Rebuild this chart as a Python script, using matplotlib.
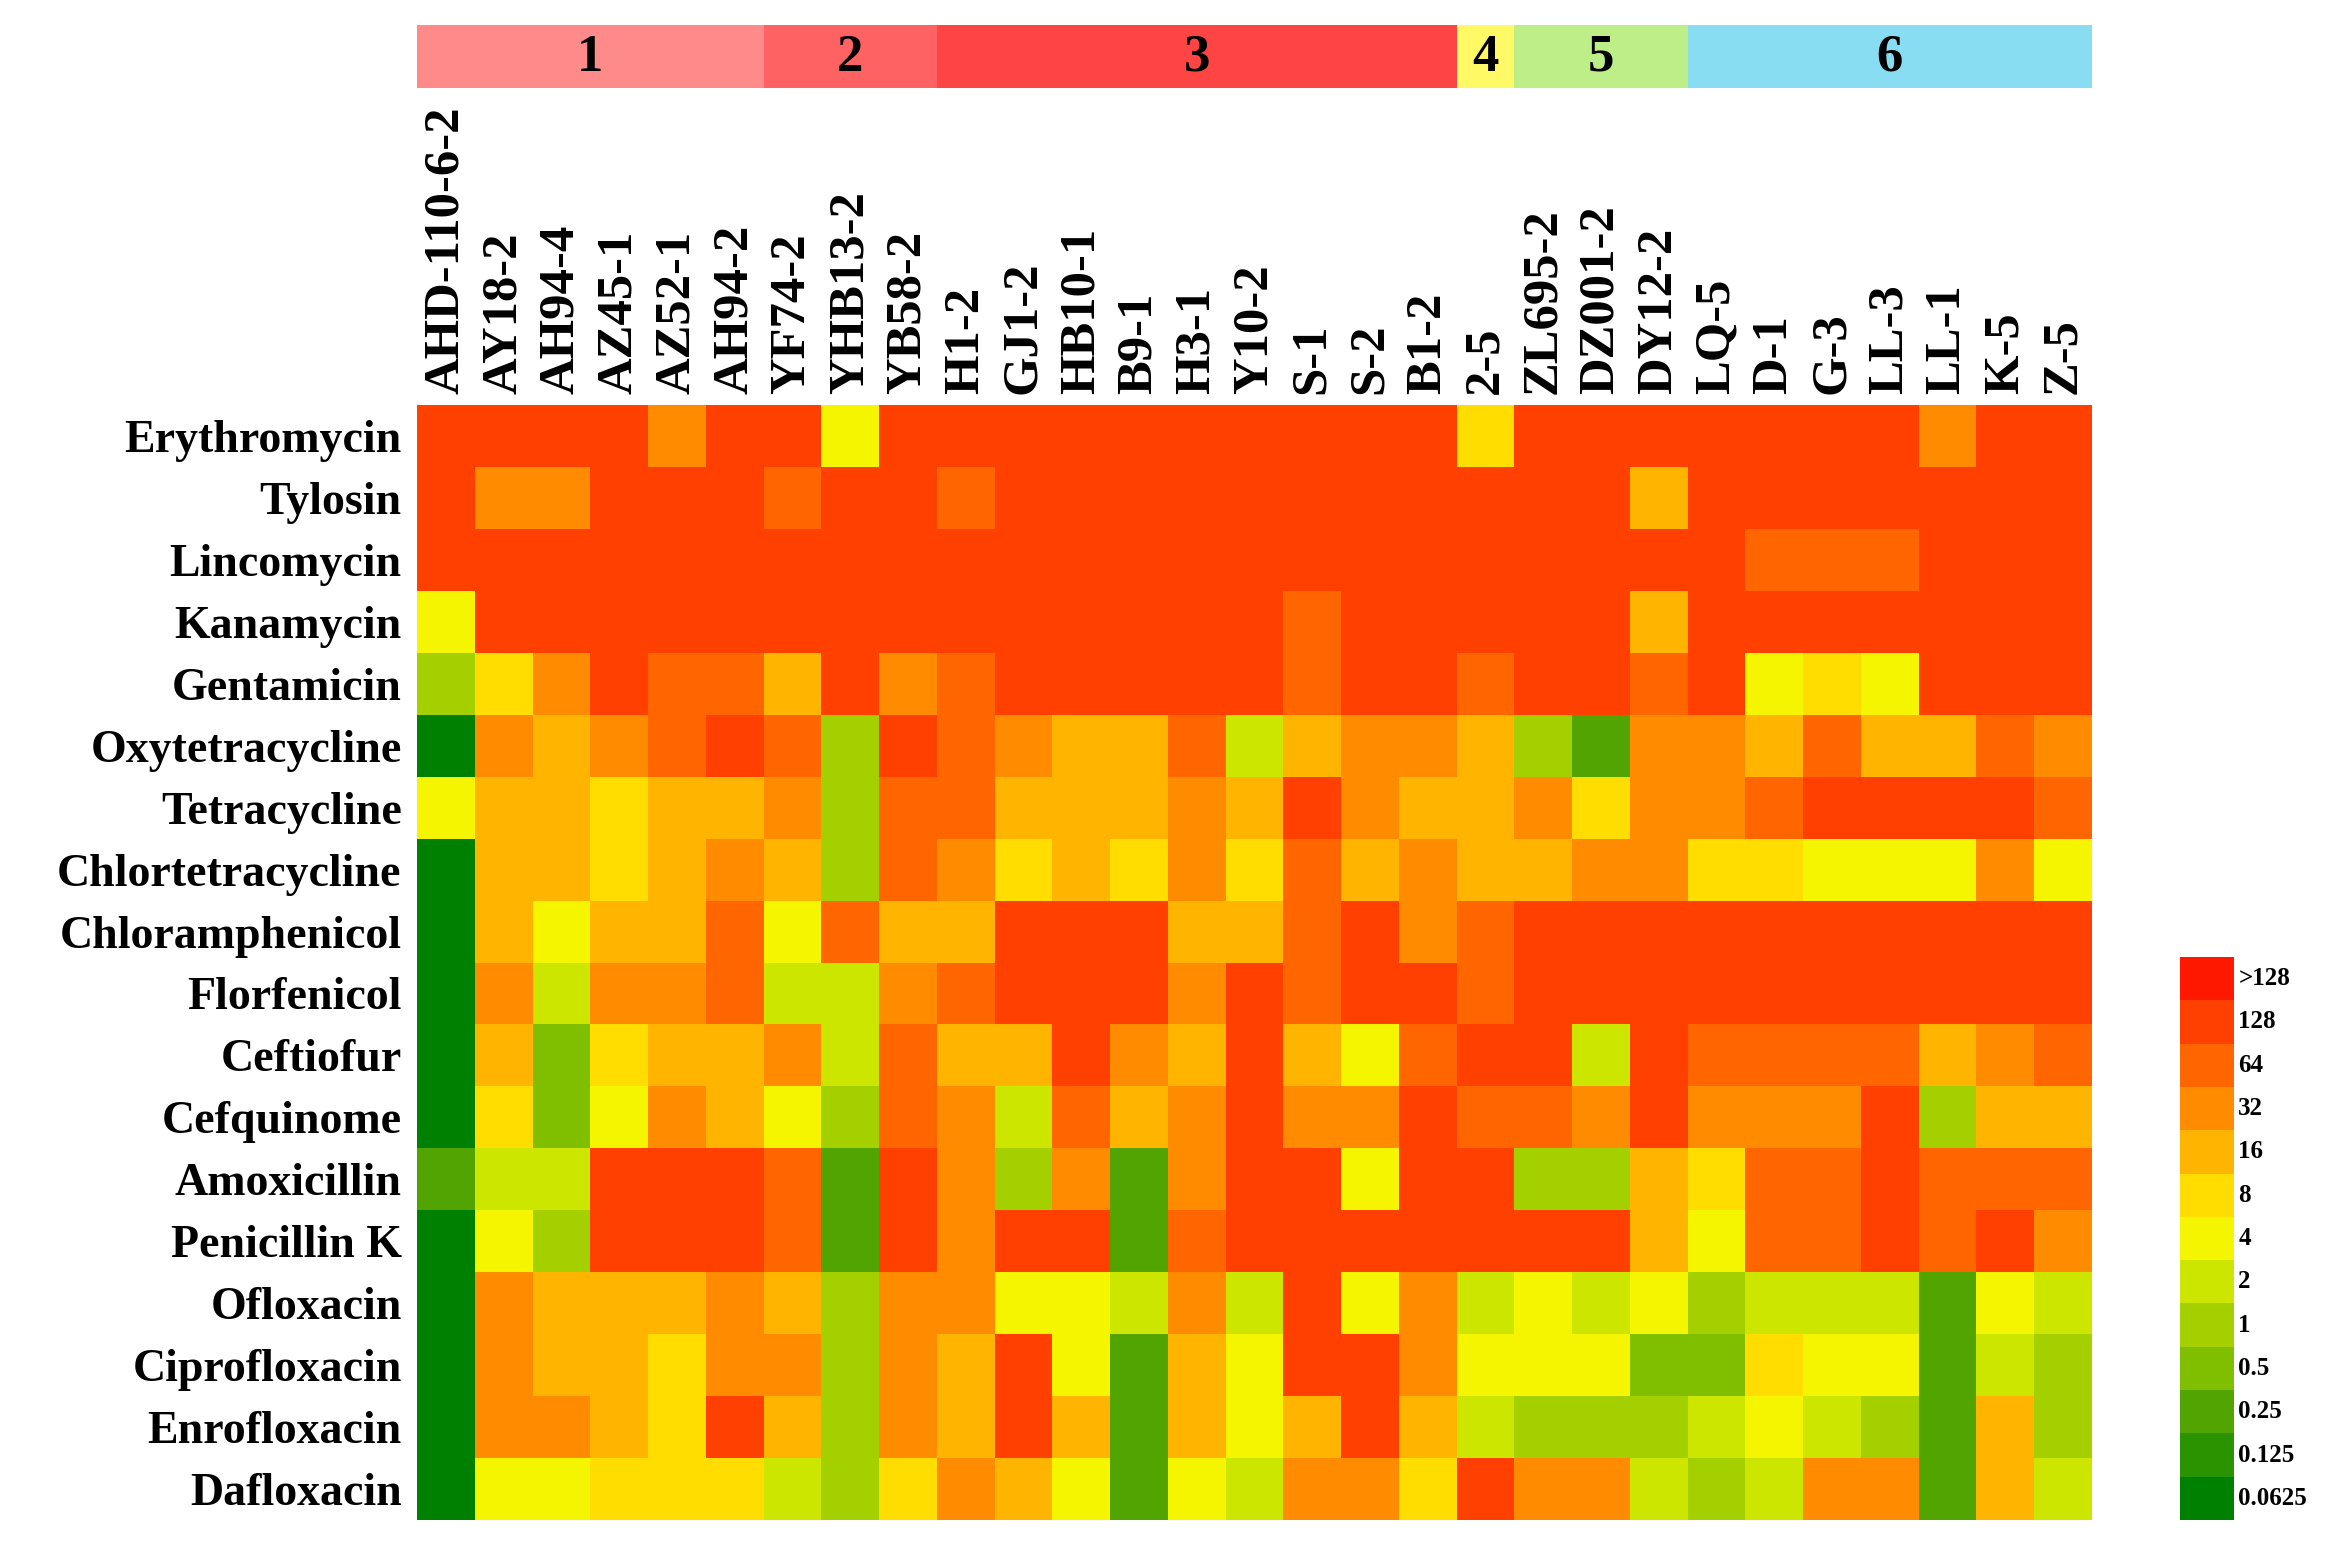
import numpy as np
import matplotlib
matplotlib.use("Agg")
import matplotlib.pyplot as plt
from matplotlib.colors import ListedColormap, BoundaryNorm

plt.rcParams['font.family'] = ['Liberation Serif', 'DejaVu Serif']

strains = ["AHD-110-6-2", "AY18-2", "AH94-4", "AZ45-1", "AZ52-1", "AH94-2",
           "YF74-2", "YHB13-2", "YB58-2", "H1-2", "GJ1-2", "HB10-1", "B9-1",
           "H3-1", "Y10-2", "S-1", "S-2", "B1-2", "2-5", "ZL695-2", "DZ001-2",
           "DY12-2", "LQ-5", "D-1", "G-3", "LL-3", "LL-1", "K-5", "Z-5"]

antibiotics = ["Erythromycin", "Tylosin", "Lincomycin", "Kanamycin", "Gentamicin",
               "Oxytetracycline", "Tetracycline", "Chlortetracycline",
               "Chloramphenicol", "Florfenicol", "Ceftiofur", "Cefquinome",
               "Amoxicillin", "Penicillin K", "Ofloxacin", "Ciprofloxacin",
               "Enrofloxacin", "Dafloxacin"]

group_names = ["1", "2", "3", "4", "5", "6"]
group_sizes = [6, 3, 9, 1, 3, 7]
group_colors = ["#FF8A8A", "#FF6262", "#FF4444", "#FFF966", "#BDEE88", "#88DDF2"]

legend_labels = ["0.0625", "0.125", "0.25", "0.5", "1", "2", "4", "8", "16",
                 "32", "64", "128", ">128"]
legend_colors = ["#008000", "#2A9400", "#52A500", "#80BF00", "#A5D000", "#CCE600",
                 "#F5F500", "#FFDD00", "#FFB400", "#FF8C00", "#FF6600", "#FF4000",
                 "#FF1800"]

# MIC values (ug/mL) per antibiotic, one value per strain
erythromycin = [128, 128, 128, 128, 32, 128, 128, 4, 128, 128, 128, 128, 128, 128, 128,
                128, 128, 128, 8, 128, 128, 128, 128, 128, 128, 128, 32, 128, 128]
tylosin = [128, 32, 32, 128, 128, 128, 64, 128, 128, 64, 128, 128, 128, 128, 128,
           128, 128, 128, 128, 128, 128, 16, 128, 128, 128, 128, 128, 128, 128]
lincomycin = [128, 128, 128, 128, 128, 128, 128, 128, 128, 128, 128, 128, 128, 128, 128,
              128, 128, 128, 128, 128, 128, 128, 128, 64, 64, 64, 128, 128, 128]
kanamycin = [4, 128, 128, 128, 128, 128, 128, 128, 128, 128, 128, 128, 128, 128, 128,
             64, 128, 128, 128, 128, 128, 16, 128, 128, 128, 128, 128, 128, 128]
gentamicin = [1, 8, 32, 128, 64, 64, 16, 128, 32, 64, 128, 128, 128, 128, 128,
              64, 128, 128, 64, 128, 128, 64, 128, 4, 8, 4, 128, 128, 128]
oxytetracycline = [0.0625, 32, 16, 32, 64, 128, 64, 1, 128, 64, 32, 16, 16, 64, 2,
                   16, 32, 32, 16, 1, 0.25, 32, 32, 16, 64, 16, 16, 64, 32]
tetracycline = [4, 16, 16, 8, 16, 16, 32, 1, 64, 64, 16, 16, 16, 32, 16,
                128, 32, 16, 16, 32, 8, 32, 32, 64, 128, 128, 128, 128, 64]
chlortetracycline = [0.0625, 16, 16, 8, 16, 32, 16, 1, 64, 32, 8, 16, 8, 32, 8,
                     64, 16, 32, 16, 16, 32, 32, 8, 8, 4, 4, 4, 32, 4]
chloramphenicol = [0.0625, 16, 4, 16, 16, 64, 4, 64, 16, 16, 128, 128, 128, 16, 16,
                   64, 128, 32, 64, 128, 128, 128, 128, 128, 128, 128, 128, 128, 128]
florfenicol = [0.0625, 32, 2, 32, 32, 64, 2, 2, 32, 64, 128, 128, 128, 32, 128,
               64, 128, 128, 64, 128, 128, 128, 128, 128, 128, 128, 128, 128, 128]
ceftiofur = [0.0625, 16, 0.5, 8, 16, 16, 32, 2, 64, 16, 16, 128, 32, 16, 128,
             16, 4, 64, 128, 128, 2, 128, 64, 64, 64, 64, 16, 32, 64]
cefquinome = [0.0625, 8, 0.5, 4, 32, 16, 4, 1, 64, 32, 2, 64, 16, 32, 128,
              32, 32, 128, 64, 64, 32, 128, 32, 32, 32, 128, 1, 16, 16]
amoxicillin = [0.25, 2, 2, 128, 128, 128, 64, 0.25, 128, 32, 1, 32, 0.25, 32, 128,
               128, 4, 128, 128, 1, 1, 16, 8, 64, 64, 128, 64, 64, 64]
penicillin_k = [0.0625, 4, 1, 128, 128, 128, 64, 0.25, 128, 32, 128, 128, 0.25, 64, 128,
                128, 128, 128, 128, 128, 128, 16, 4, 64, 64, 128, 64, 128, 32]
ofloxacin = [0.0625, 32, 16, 16, 16, 32, 16, 1, 32, 32, 4, 4, 2, 32, 2,
             128, 4, 32, 2, 4, 2, 4, 1, 2, 2, 2, 0.25, 4, 2]
ciprofloxacin = [0.0625, 32, 16, 16, 8, 32, 32, 1, 32, 16, 128, 4, 0.25, 16, 4,
                 128, 128, 32, 4, 4, 4, 0.5, 0.5, 8, 4, 4, 0.25, 2, 1]
enrofloxacin = [0.0625, 32, 32, 16, 8, 128, 16, 1, 32, 16, 128, 16, 0.25, 16, 4,
                16, 128, 16, 2, 1, 1, 1, 2, 4, 2, 1, 0.25, 16, 1]
dafloxacin = [0.0625, 4, 4, 8, 8, 8, 2, 1, 8, 32, 16, 4, 0.25, 4, 2,
              32, 32, 8, 128, 32, 32, 2, 1, 2, 32, 32, 0.25, 16, 2]

mic = np.array([erythromycin, tylosin, lincomycin, kanamycin, gentamicin,
                oxytetracycline, tetracycline, chlortetracycline, chloramphenicol,
                florfenicol, ceftiofur, cefquinome, amoxicillin, penicillin_k,
                ofloxacin, ciprofloxacin, enrofloxacin, dafloxacin], dtype=float)

levels = np.log2(mic) + 4  # 0.0625 -> 0 ... 128 -> 11, >128 -> 12
cmap = ListedColormap(legend_colors)
norm = BoundaryNorm(np.arange(-0.5, len(legend_colors) + 0.5), len(legend_colors))

W, H = 2336, 1546
fig = plt.figure(figsize=(W / 100, H / 100), dpi=100)

# heatmap
hx0, hx1, hy0, hy1 = 417, 2092, 405, 1520
ax = fig.add_axes([hx0 / W, 1 - hy1 / H, (hx1 - hx0) / W, (hy1 - hy0) / H])
ax.pcolormesh(np.arange(len(strains) + 1), np.arange(len(antibiotics) + 1), levels,
              cmap=cmap, norm=norm)
ax.set_xlim(0, len(strains))
ax.set_ylim(len(antibiotics), 0)
ax.set_yticks(np.arange(len(antibiotics)) + 0.5)
ax.set_yticklabels(antibiotics, fontsize=33, fontweight='bold')
ax.xaxis.tick_top()
ax.set_xticks(np.arange(len(strains)) + 0.5)
ax.set_xticklabels(strains, fontsize=36.5, fontweight='bold', rotation=90)
ax.tick_params(axis='y', length=0, pad=11)
ax.tick_params(axis='x', length=0, pad=8)
for s in ax.spines.values():
    s.set_visible(False)

# group bar
gy0, gy1 = 25, 88
gax = fig.add_axes([hx0 / W, 1 - gy1 / H, (hx1 - hx0) / W, (gy1 - gy0) / H])
starts = np.concatenate([[0], np.cumsum(group_sizes)[:-1]])
gax.barh(0, group_sizes, left=starts, height=1, color=group_colors, edgecolor='none')
for name, st, sz in zip(group_names, starts, group_sizes):
    gax.text(st + sz / 2, -0.02, name, ha='center', va='center', fontsize=38,
             fontweight='bold')
gax.set_xlim(0, sum(group_sizes))
gax.set_ylim(-0.5, 0.5)
gax.axis('off')

# legend
lx0, lx1, ly0, ly1 = 2180, 2234, 957, 1520
lax = fig.add_axes([lx0 / W, 1 - ly1 / H, (lx1 - lx0) / W, (ly1 - ly0) / H])
n = len(legend_colors)
lax.pcolormesh([0, 1], np.arange(n + 1), np.arange(n).reshape(-1, 1), cmap=cmap, norm=norm)
lax.set_xlim(0, 1)
lax.set_ylim(0, n)
for i, lab in enumerate(legend_labels):
    lax.text(1.08, i + 0.5, lab, ha='left', va='center', fontsize=18, fontweight='bold')
lax.axis('off')

fig.savefig("out.png", dpi=100)
